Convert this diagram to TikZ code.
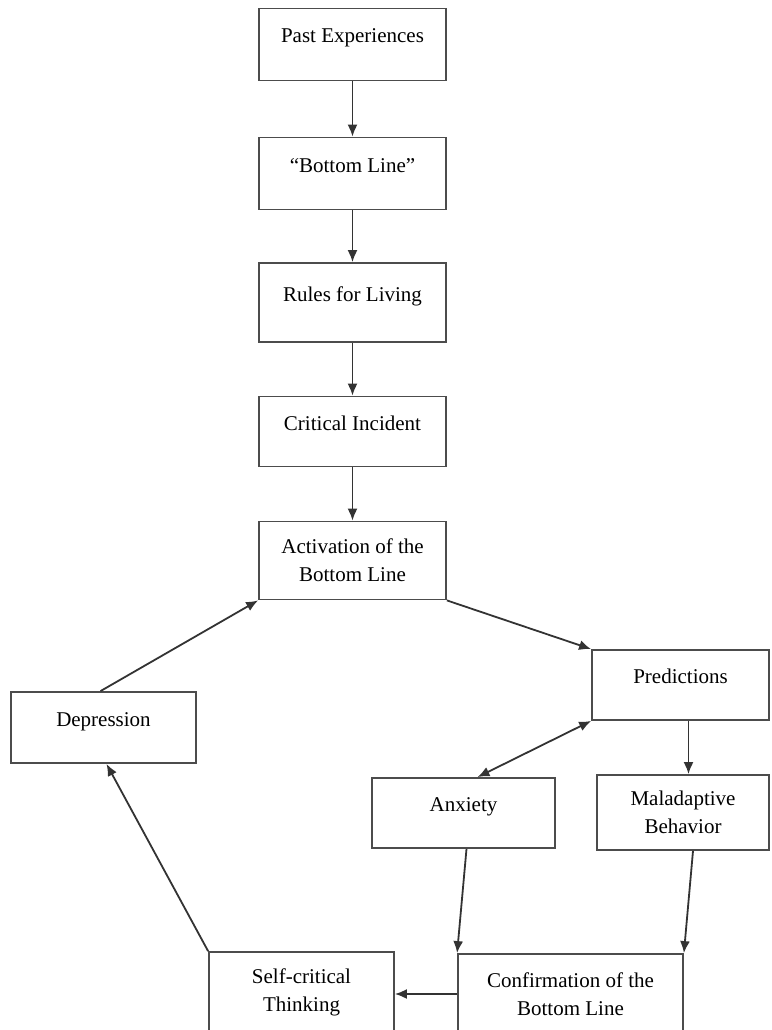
\documentclass[tikz,border=0pt]{standalone}
\usepackage{fontspec}
\setmainfont{Liberation Serif}
\usetikzlibrary{arrows,arrows.meta,positioning,shapes}
\tikzstyle{block}=[draw=black!70, line width=1.8pt, rectangle, minimum width=187pt, minimum height=72pt, align=center, font=\fontsize{21}{28}\selectfont]
\tikzstyle{oneline}=[text height=15pt, text depth=18pt]
\tikzstyle{link}=[->, line width=1.8pt, draw=black!80]

\begin{document}
\begin{tikzpicture}[x=1pt, y=-1pt, node distance=129pt, >={Latex[length=12pt,width=10pt]}]
    \useasboundingbox (0,0) rectangle (771,1030);
    \clip (0,0) rectangle (771,1030);
    % main column
    \node [block, oneline] (past) at (352.5,44.5) {Past Experiences};
    \node [block, oneline, below of=past] (bottomline) {“Bottom Line”};
    \node [block, oneline, below of=bottomline, minimum height=79pt] (rules) {Rules for Living};
    \node [block, oneline, below of=rules, minimum height=70pt] (critical) {Critical Incident};
    \node [block, below of=critical, minimum height=78pt] (activation) {Activation of the\\Bottom Line};
    % the cycle
    \node [block, oneline, minimum width=177pt, minimum height=70pt] (predictions) at (680.5,685) {Predictions};
    \node [block, oneline, minimum width=185pt, minimum height=71pt] (depression) at (103.5,727.5) {Depression};
    \node [block, oneline, minimum width=183pt, minimum height=70pt] (anxiety) at (463.5,813) {Anxiety};
    \node [block, minimum width=172pt, minimum height=75pt] (maladaptive) at (683,812.5) {Maladaptive\\Behavior};
    \node [block, minimum width=185pt, minimum height=80pt] (selfcrit) at (301.5,992) {Self-critical\\Thinking};
    \node [block, minimum width=225pt, minimum height=80pt] (confirm) at (570.5,994) {Confirmation of the\\Bottom Line};

    \draw[link] (past) -- (bottomline);
    \draw[link] (bottomline) -- (rules);
    \draw[link] (rules) -- (critical);
    \draw[link] (critical) -- (activation);
    \draw[link] (activation.south east) -- (predictions.north west);
    \draw[link, <->] (predictions.south west) -- ([xshift=14pt]anxiety.north);
    \draw[link] ([xshift=8pt]predictions.south) -- ([xshift=8pt]predictions.south |- maladaptive.north);
    \draw[link] ([xshift=3pt]anxiety.south) -- (confirm.north west);
    \draw[link] ([xshift=10pt]maladaptive.south) -- (confirm.north east);
    \draw[link] (confirm.west) -- (confirm.west -| selfcrit.east);
    \draw[link] (selfcrit.north west) -- ([xshift=3pt]depression.south);
    \draw[link] ([xshift=-3pt]depression.north) -- (activation.south west);
\end{tikzpicture}
\end{document}
